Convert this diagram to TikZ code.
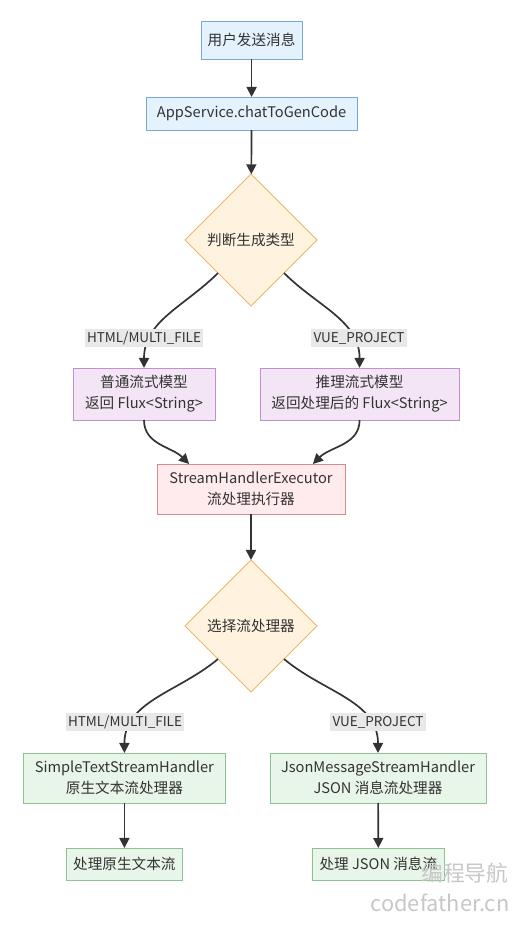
\documentclass[tikz,border=0pt]{standalone}
\usepackage{fontspec}
\setmainfont{Noto Sans CJK SC}
\usetikzlibrary{shapes.geometric,arrows.meta}

\definecolor{txt}{HTML}{333333}
\definecolor{edge}{HTML}{333333}
\definecolor{lblfill}{HTML}{E8E8E8}
\definecolor{bluefill}{HTML}{E3F2FD}
\definecolor{blueline}{HTML}{7AA7DA}
\definecolor{purplefill}{HTML}{F3E5F5}
\definecolor{purpleline}{HTML}{C190CF}
\definecolor{pinkfill}{HTML}{FFEBEE}
\definecolor{pinkline}{HTML}{D98A8F}
\definecolor{decfill}{HTML}{FFF3E0}
\definecolor{decline}{HTML}{F0B46A}
\definecolor{greenfill}{HTML}{E8F5E9}
\definecolor{greenline}{HTML}{8FC293}

\begin{document}
\begin{tikzpicture}[every node/.style={align=center, text=txt, outer sep=0pt, font=\fontsize{10.4}{15}\selectfont},
box/.style={draw, line width=0.6pt, inner sep=2pt, minimum height=1.25cm},
dec/.style={diamond, draw=decline, fill=decfill, line width=0.6pt, inner sep=0pt, minimum width=3.3cm, minimum height=3.3cm},
lbl/.style={fill=lblfill, inner sep=1.5pt, minimum height=0.45cm, font=\fontsize{9.6}{11}\selectfont},
arr/.style={draw=edge, line width=1.2pt, -{Triangle[length=0.25cm,width=0.25cm]}}]
\useasboundingbox (0,0) rectangle (13,23.15);

\node[box, draw=blueline, fill=bluefill, minimum width=2.53cm, minimum height=0.95cm] (start) at (6.29,22.15) {用户发送消息};
\node[box, draw=blueline, fill=bluefill, minimum width=5.28cm, minimum height=0.83cm] (chat) at (6.29,20.31) {AppService.chatToGenCode};
\node[dec] (type) at (6.275,17.15) {判断生成类型};
\node[box, draw=purpleline, fill=purplefill, minimum width=3.55cm, minimum height=1.3cm] (plain) at (3.6,13.3) {普通流式模型\\返回 Flux<String>};
\node[box, draw=purpleline, fill=purplefill, minimum width=4.98cm, minimum height=1.3cm] (reason) at (8.99,13.3) {推理流式模型\\返回处理后的 Flux<String>};
\node[box, draw=pinkline, fill=pinkfill, minimum width=4.7cm] (exec) at (6.275,10.925) {StreamHandlerExecutor\\流处理执行器};
\node[dec] (pick) at (6.275,7.5) {选择流处理器};
\node[box, draw=greenline, fill=greenfill, minimum width=5.03cm] (simple) at (3.11,3.7) {SimpleTextStreamHandler\\原生文本流处理器};
\node[box, draw=greenline, fill=greenfill, minimum width=5.4cm] (json) at (9.45,3.7) {JsonMessageStreamHandler\\JSON 消息流处理器};
\node[box, draw=greenline, fill=greenfill, minimum width=2.88cm, minimum height=0.8cm] (rawout) at (3.11,1.55) {处理原生文本流};
\node[box, draw=greenline, fill=greenfill, minimum width=3.28cm, minimum height=0.8cm] (jsonout) at (9.46,1.55) {处理 JSON 消息流};

% connectors
\draw[arr] (start) -- (chat);
\draw[arr] (chat) -- (type);
\draw[arr] (type.south west) to[out=225, in=90] (plain.north);
\draw[arr] (type.south east) to[out=-45, in=90] (reason.north);
\draw[arr] (plain.south) to[out=-90, in=135] (exec.158);
\draw[arr] (reason.south) to[out=-90, in=45] (exec.22);
\draw[arr] (exec) -- (pick);
\draw[arr] (pick.south west) to[out=220, in=90] (simple.north);
\draw[arr] (pick.south east) to[out=-40, in=90] (json.north);
\draw[arr] (simple) -- (rawout);
\draw[arr] (json) -- (jsonout);

% edge labels
\node[lbl] (l1) at (3.6,14.7) {HTML/MULTI\_FILE};
\node[lbl] (l2) at (8.975,14.7) {VUE\_PROJECT};
\node[lbl] (l3) at (3.125,5.1) {HTML/MULTI\_FILE};
\node[lbl] (l4) at (9.45,5.1) {VUE\_PROJECT};

% watermark
\node[text=black!22, font=\fontsize{15.5}{18}\selectfont] (wm1) at (11.62,1.33) {编程导航};
\node[text=black!22, font=\fontsize{15.5}{18}\selectfont] (wm2) at (11.0,0.58) {codefather.cn};
\end{tikzpicture}
\end{document}
